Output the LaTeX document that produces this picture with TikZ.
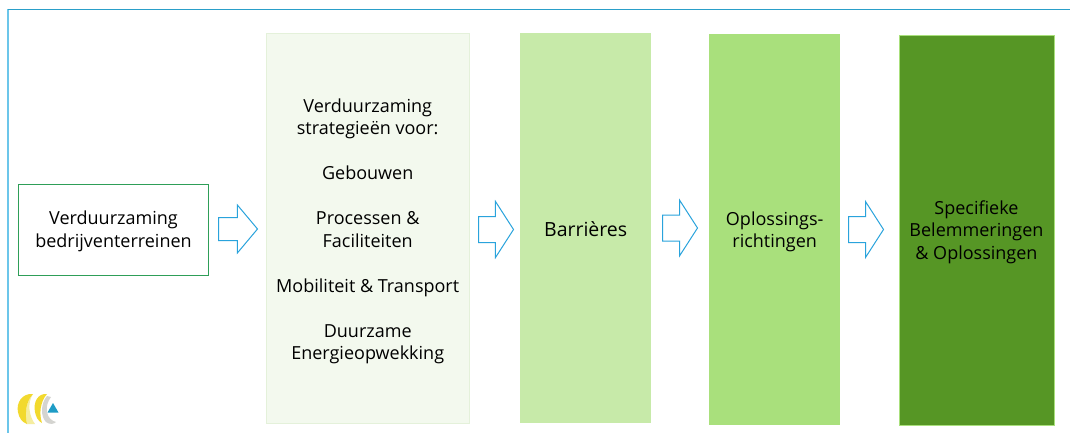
\documentclass[tikz,border=0pt]{standalone}
\usepackage{fontspec}
\setmainfont{Open Sans}
\usetikzlibrary{shapes.arrows}
\definecolor{frametop}{HTML}{2A9FC9}
\definecolor{frameleft}{HTML}{6CC6EA}
\definecolor{startline}{HTML}{2E9E58}
\definecolor{pijlline}{HTML}{29A3DC}
\definecolor{paleone}{HTML}{F3F9EE}
\definecolor{paleline}{HTML}{E4F1DA}
\definecolor{midone}{HTML}{C7EAA9}
\definecolor{midtwo}{HTML}{A9E07C}
\definecolor{darkone}{HTML}{569625}
\definecolor{logoyellow}{HTML}{F2D92E}
\definecolor{logopale}{HTML}{F5EDA0}
\definecolor{logogrey}{HTML}{D4D4D0}
\definecolor{logoblue}{HTML}{1E9CC6}
\tikzset{
    kolom/.style={rectangle, anchor=north west, inner sep=0pt},
    tekst/.style={align=center, inner sep=0pt, font=\fontsize{18}{22.5}\selectfont},
    pijl/.style={single arrow, draw=pijlline, fill=white, line width=1pt, inner sep=0pt, anchor=tail,
        minimum height=35pt, minimum width=55pt, single arrow head extend=15pt,
        single arrow tip angle=114.5, single arrow head indent=0pt, text height=25pt},
    pijlklein/.style={pijl, minimum height=39pt, minimum width=47pt, single arrow head extend=12.5pt,
        single arrow tip angle=100, text height=22pt},
}
\begin{document}
\begin{tikzpicture}[x=1pt,y=-1pt]
    \useasboundingbox (0,0) rectangle (1070,433);
    \fill[white] (0,0) rectangle (1070,433);
    \draw[frameleft, line width=1.6pt] (8,9) -- (8,433);
    \draw[frametop, line width=1pt] (8,9.5) -- (1070,9.5);
    % kolommen
    \node[kolom, draw=startline, line width=1pt, minimum width=190pt, minimum height=91pt] (start) at (18,184) {};
    \node[kolom, draw=paleline, fill=paleone, minimum width=203pt, minimum height=390pt] (strategie) at (266,33) {};
    \node[kolom, fill=midone, minimum width=131pt, minimum height=390pt] (barriere) at (520,33) {};
    \node[kolom, fill=midtwo, minimum width=131pt, minimum height=391pt] (oplossing) at (709,34) {};
    \node[kolom, draw=midtwo, fill=darkone, minimum width=154.5pt, minimum height=390pt] (specifiek) at (899,35) {};
    % teksten
    \node[tekst] (starttekst) at ([yshift=-1.5pt]start.center) {Verduurzaming\\bedrijventerreinen};
    \node[tekst] (strategietekst) at ([yshift=-3pt]strategie.center)
        {Verduurzaming\\strategieën voor:\\~\\Gebouwen\\~\\Processen \&\\Faciliteiten\\~\\Mobiliteit \& Transport\\~\\Duurzame\\Energieopwekking};
    \node[tekst, font=\fontsize{19.5}{24}\selectfont] (barrieretekst) at ([yshift=-1pt]barriere.center) {Barrières};
    \node[tekst] (oplossingtekst) at ([yshift=-2pt]oplossing.center) {Oplossings-\\richtingen};
    \node[tekst] (specifiektekst) at ([yshift=-2pt]specifiek.center) {Specifieke\\Belemmeringen\\\& Oplossingen};
    % pijlen
    \node[pijlklein] (pijla) at (218,229) {};
    \foreach \Name/\Pos/\Hoog in {b/478/229.5,c/662/228,d/848/229.5}
    {
        \node[pijl] (pijl\Name) at (\Pos,\Hoog) {};
    }
    % logo
    \fill[logopale] (27,424) .. controls (25,416) and (25,402) .. (33,394) .. controls (27,403) and (29,416) .. (35,424) -- cycle;
    \fill[logoyellow] (33,394) .. controls (22,393) and (16,403) .. (18,412) .. controls (19,418) and (22,422) .. (27,424)
        .. controls (25,416) and (25,402) .. (33,394) -- cycle;
    \fill[logoyellow] (47,394) .. controls (38,393) and (33,402) .. (35,412) .. controls (36,417) and (38,421) .. (42,423)
        .. controls (39,414) and (40,402) .. (47,394) -- cycle;
    \fill[logogrey] (47,396) .. controls (41,403) and (40,416) .. (46,422) .. controls (50,425) and (54,424) .. (56,422)
        .. controls (52,421) and (48,418) .. (47,412) .. controls (46,406) and (48,401) .. (51,397) -- cycle;
    \fill[logoblue] (53,403) -- (58.5,412.5) -- (47.5,412.5) -- cycle;
\end{tikzpicture}
\end{document}
